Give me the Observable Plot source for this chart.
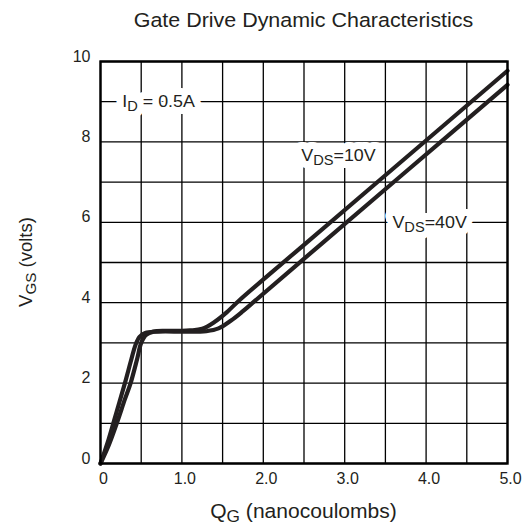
<!DOCTYPE html>
<html><head><meta charset="utf-8">
<script src="https://cdn.jsdelivr.net/npm/d3@7"></script>
<script src="https://cdn.jsdelivr.net/npm/@observablehq/plot@0.6"></script>
<style>body{margin:0;background:#fff}</style>
</head><body><div id="chart"></div>
<script>
// VDS = 10V curve
const qg10  = [0, 0.1, 0.2, 0.3, 0.37, 0.45, 0.5, 0.56, 0.65, 0.8, 1.0, 1.1, 1.25, 1.4, 1.55, 1.7, 2.5, 3.5, 5.0];
const vgs10 = [0, 0.45, 1.0, 1.6, 2.0, 2.6, 3.0, 3.2, 3.28, 3.3, 3.3, 3.31, 3.35, 3.52, 3.76, 4.05, 5.44, 7.17, 9.77];
// VDS = 40V curve
const qg40  = [0, 0.1, 0.2, 0.3, 0.38, 0.43, 0.48, 0.55, 0.7, 1.0, 1.2, 1.3, 1.45, 1.6, 1.75, 1.9, 2.7, 3.7, 5.0];
const vgs40 = [0, 0.6, 1.3, 2.0, 2.6, 2.95, 3.15, 3.25, 3.28, 3.28, 3.28, 3.29, 3.36, 3.55, 3.79, 4.05, 5.44, 7.17, 9.42];

const xTicks = [0, 1, 2, 3, 4, 5];
const yTicks = [0, 2, 4, 6, 8, 10];
const xGrid = [0, 0.5, 1, 1.5, 2, 2.5, 3, 3.5, 4, 4.5, 5];
const yGrid = [0, 1, 2, 3, 4, 5, 6, 7, 8, 9, 10];

const labels = [
  {x: 0.72, y: 9, parts: [["I", false], ["D", true], [" = 0.5A", false]]},
  {x: 2.93, y: 7.66, parts: [["V", false], ["DS", true], ["=10V", false]]},
  {x: 4.05, y: 6, parts: [["V", false], ["DS", true], ["=40V", false]]}
];

const series = [
  ...qg10.map((q, i) => ({q, v: vgs10[i], s: "10V"})),
  ...qg40.map((q, i) => ({q, v: vgs40[i], s: "40V"}))
];

const ink = "#231f20";
const font = "'Liberation Sans', Arial, Helvetica, sans-serif";

const plot = Plot.plot({
  width: 529, height: 529,
  marginLeft: 100, marginRight: 22, marginTop: 61, marginBottom: 66,
  style: {fontFamily: font, color: ink, background: "#fff"},
  x: {domain: [0, 5]},
  y: {domain: [0, 10]},
  marks: [
    Plot.ruleX(xGrid, {stroke: "#000", strokeWidth: 1.3}),
    Plot.ruleY(yGrid, {stroke: "#000", strokeWidth: 1.3}),
    Plot.line(series, {x: "q", y: "v", z: "s", stroke: ink, strokeWidth: 4.2, curve: "catmull-rom"}),
    Plot.frame({stroke: "#000", strokeWidth: 2.4}),
    Plot.axisX({ticks: xTicks, tickFormat: d => d === 0 ? "0" : d.toFixed(1), tickSize: 0, tickPadding: 9, fontSize: 16, label: null, dx: 3, fill: ink}),
    Plot.axisY({ticks: yTicks, tickSize: 0, tickPadding: 10, fontSize: 16, label: null, dy: -5, fill: ink})
  ]
});

const svg = d3.select(plot);
const xs = plot.scale("x"), ys = plot.scale("y");

function richText(g, parts, fs) {
  parts.forEach(([t, sub], i) => {
    const ts = g.append("tspan").text(t);
    if (sub) ts.attr("dy", "0.28em").attr("font-size", fs * 0.82);
    else if (i > 0 && parts[i - 1][1]) ts.attr("dy", "-0.23em");
  });
}

function addText(transform, parts, fs, anchorDy, halo) {
  const layers = halo ? ["halo", "fill"] : ["fill"];
  layers.forEach(layer => {
    const t = svg.append("text")
      .attr("transform", transform)
      .attr("dy", anchorDy).attr("text-anchor", "middle")
      .attr("font-family", font).attr("font-size", fs);
    if (layer === "halo") t.attr("fill", "#fff").attr("stroke", "#fff").attr("stroke-width", 14).attr("stroke-linejoin", "round");
    else t.attr("fill", ink);
    richText(t, parts, fs);
  });
}

labels.forEach(l => {
  addText(`translate(${xs.apply(l.x)},${ys.apply(l.y)}) scale(1.05,1)`, l.parts, 17, "0.35em", true);
});

const cx = (xs.range[0] + xs.range[1]) / 2;
const cy = (ys.range[0] + ys.range[1]) / 2;
addText(`translate(${cx},27) scale(1.1,1)`, [["Gate Drive Dynamic Characteristics", false]], 19.5, 0, false);
addText(`translate(${cx},518) scale(1.08,1)`, [["Q", false], ["G", true], [" (nanocoulombs)", false]], 19.5, 0, false);
addText(`translate(32,${cy}) rotate(-90)`, [["V", false], ["GS", true], [" (volts)", false]], 18.5, 0, false);

document.getElementById("chart").appendChild(plot);
</script>
</body></html>
